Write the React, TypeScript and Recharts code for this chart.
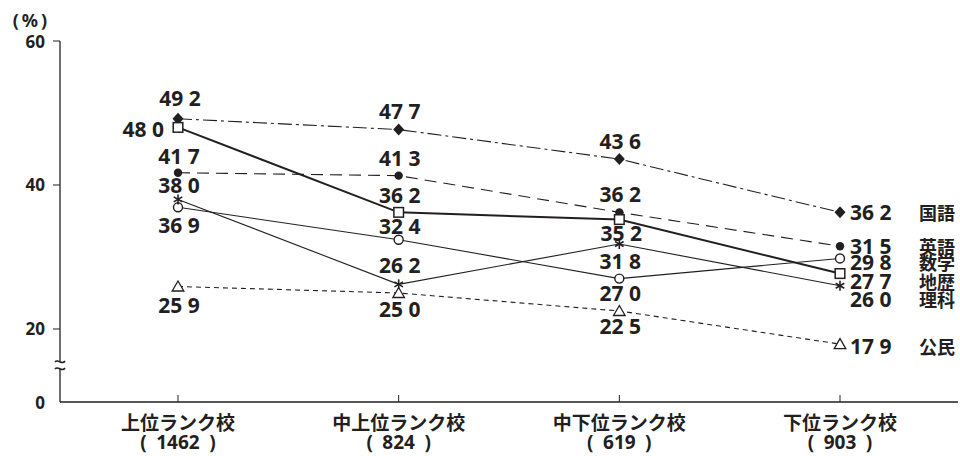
import { LabelList, Line, LineChart, XAxis, YAxis } from "recharts";

// 学校ランク別・教科別の割合（%）
const categories = ["上位ランク校", "中上位ランク校", "中下位ランク校", "下位ランク校"];
const counts = ["1462", "824", "619", "903"];

const kokugo = [49.2, 47.7, 43.6, 36.2];
const eigo = [41.7, 41.3, 36.2, 31.5];
const sugaku = [36.9, 32.4, 27.0, 29.8];
const chireki = [48.0, 36.2, 35.2, 27.7];
const rika = [38.0, 26.2, 31.8, 26.0];
const komin = [25.9, 25.0, 22.5, 17.9];

// axis is broken between 0 and 20: the "0" tick sits at AXIS_FLOOR
const AXIS_FLOOR = 9.86;
const BREAK_AT = 15;
const yTicks = [AXIS_FLOOR, BREAK_AT, 20, 40, 60];
const yTickLabels = ["0", "", "20", "40", "60"];

const INK = "#231f20";
const LATIN = "'Noto Sans', 'Noto Sans CJK JP', sans-serif";
const CJK = "'Noto Sans CJK JP', 'Noto Sans', sans-serif";

const rows = categories.map((category, i) => ({
  category,
  kokugo: kokugo[i],
  eigo: eigo[i],
  sugaku: sugaku[i],
  chireki: chireki[i],
  rika: rika[i],
  komin: komin[i],
}));

type Anchor = "start" | "middle" | "end";
// label offsets from the marker: [dx, dy, anchor]
const placements: Record<string, [number, number, Anchor][]> = {
  kokugo: [[2, -21, "middle"], [1, -19, "middle"], [1, -18, "middle"], [10, 0, "start"]],
  chireki: [[-14, 2, "end"], [1, -17, "middle"], [2, 13, "middle"], [10, 7, "start"]],
  eigo: [[1, -17, "middle"], [1, -18, "middle"], [1, -18, "middle"], [10, 0, "start"]],
  sugaku: [[1, 18, "middle"], [1, -14, "middle"], [1, 14, "middle"], [10, 4, "start"]],
  rika: [[1, -14, "middle"], [1, -19, "middle"], [1, 17, "middle"], [10, 13, "start"]],
  komin: [[1, 18, "middle"], [1, 16, "middle"], [1, 15, "middle"], [10, 2, "start"]],
};

const Diamond = ({ cx, cy }: any) => (
  <polygon points={`${cx},${cy - 6} ${cx + 5.5},${cy} ${cx},${cy + 6} ${cx - 5.5},${cy}`} fill={INK} />
);
const Dot = ({ cx, cy }: any) => <circle cx={cx} cy={cy} r={4.2} fill={INK} />;
const Ring = ({ cx, cy }: any) => (
  <circle cx={cx} cy={cy} r={4.5} fill="#fff" stroke={INK} strokeWidth={1.4} />
);
const Square = ({ cx, cy }: any) => (
  <rect x={cx - 4.8} y={cy - 4.8} width={9.6} height={9.6} fill="#fff" stroke={INK} strokeWidth={1.5} />
);
const Star = ({ cx, cy }: any) => (
  <g stroke={INK} strokeWidth={1.6}>
    <line x1={cx} y1={cy - 5} x2={cx} y2={cy + 5} />
    <line x1={cx - 4.3} y1={cy - 2.5} x2={cx + 4.3} y2={cy + 2.5} />
    <line x1={cx - 4.3} y1={cy + 2.5} x2={cx + 4.3} y2={cy - 2.5} />
  </g>
);
const Triangle = ({ cx, cy }: any) => (
  <polygon
    points={`${cx},${cy - 5.5} ${cx + 5.8},${cy + 4.5} ${cx - 5.8},${cy + 4.5}`}
    fill="#fff"
    stroke={INK}
    strokeWidth={1.3}
  />
);

const series = [
  { key: "kokugo", name: "国語", dash: "14 4 3 4", width: 1.1, Marker: Diamond },
  { key: "eigo", name: "英語", dash: "12 7", width: 1.1, Marker: Dot },
  { key: "sugaku", name: "数学", dash: undefined, width: 1.1, Marker: Ring },
  { key: "rika", name: "理科", dash: undefined, width: 1.1, Marker: Star },
  { key: "komin", name: "公民", dash: "5 4", width: 1.1, Marker: Triangle },
  { key: "chireki", name: "地歴", dash: undefined, width: 2, Marker: Square },
];

const makeLabel = (key: string, name: string) => (props: any) => {
  const { x, y, value, index } = props;
  const [dx, dy, anchor] = placements[key][index];
  const text = Number(value).toFixed(1).replace(".", " ");
  const last = index === categories.length - 1;
  return (
    <g>
      <text
        x={x + dx}
        y={y + dy}
        textAnchor={anchor}
        dominantBaseline="central"
        fontFamily={LATIN}
        fontWeight={700}
        fontSize={21}
        fill={INK}
      >
        {text}
      </text>
      {last && (
        <text
          x={x + 79}
          y={y + dy}
          dominantBaseline="central"
          fontFamily={CJK}
          fontWeight={700}
          fontSize={18}
          fill={INK}
        >
          {name}
        </text>
      )}
    </g>
  );
};

const XTick = ({ x, y, payload }: any) => {
  const i = categories.indexOf(payload.value);
  return (
    <g>
      <line x1={x} y1={y} x2={x} y2={y - 7} stroke={INK} strokeWidth={1} />
      <text x={x} y={y + 19} textAnchor="middle" dominantBaseline="central" fontFamily={CJK} fontWeight={700} fontSize={19} fill={INK}>
        {payload.value}
      </text>
      <text x={x} y={y + 40} textAnchor="middle" dominantBaseline="central" fontFamily={LATIN} fontWeight={700} fontSize={19} fill={INK}>
        {`(\u2002${counts[i]}\u2002)`}
      </text>
    </g>
  );
};

const YTick = ({ x, y, payload, index }: any) => {
  if (payload.value === BREAK_AT) {
    return (
      <g>
        <rect x={x - 6} y={y - 4} width={12} height={8} fill="#fff" />
        <path d={`M${x - 5},${y - 3} C${x - 2},${y - 7} ${x + 2},${y + 1} ${x + 5},${y - 4}`} fill="none" stroke={INK} strokeWidth={1.6} />
        <path d={`M${x - 5},${y + 4} C${x - 2},${y} ${x + 2},${y + 8} ${x + 5},${y + 3}`} fill="none" stroke={INK} strokeWidth={1.6} />
      </g>
    );
  }
  return (
    <g>
      {payload.value !== AXIS_FLOOR && <line x1={x - 7} y1={y} x2={x} y2={y} stroke={INK} strokeWidth={1} />}
      <text x={x - 15} y={y} textAnchor="end" dominantBaseline="central" fontFamily={LATIN} fontWeight={700} fontSize={17} fill={INK}>
        {yTickLabels[index]}
      </text>
    </g>
  );
};

const UnitLabel = ({ viewBox }: any) => (
  <text
    x={viewBox.x + 30}
    y={viewBox.y - 21}
    textAnchor="middle"
    dominantBaseline="central"
    fontFamily={LATIN}
    fontWeight={700}
    fontSize={18}
    fill={INK}
  >
    {"(\u2009%\u2009)"}
  </text>
);

export default function App() {
  return (
    <div style={{ position: "absolute", left: 0, top: 0, width: 960, height: 456, background: "#fff" }}>
      <LineChart width={960} height={456} data={rows} margin={{ top: 41, right: 2, bottom: 0, left: 0 }}>
        <XAxis
          dataKey="category"
          height={54}
          padding={{ left: 118, right: 118 }}
          axisLine={{ stroke: INK, strokeWidth: 1.3 }}
          tickLine={false}
          tickSize={0}
          tickMargin={0}
          interval={0}
          tick={<XTick />}
        />
        <YAxis
          type="number"
          width={60}
          domain={[AXIS_FLOOR, 60]}
          ticks={yTicks}
          interval={0}
          axisLine={{ stroke: INK, strokeWidth: 1.3 }}
          tickLine={false}
          tickSize={0}
          tickMargin={0}
          tick={<YTick />}
          label={<UnitLabel />}
        />
        {series.map(({ key, name, dash, width, Marker }) => (
          <Line
            key={key}
            dataKey={key}
            type="linear"
            stroke={INK}
            strokeWidth={width}
            strokeDasharray={dash}
            isAnimationActive={false}
            dot={(p: any) => <Marker key={`${key}-${p.index}`} cx={p.cx} cy={p.cy} />}
            activeDot={false}
          >
            <LabelList dataKey={key} content={makeLabel(key, name)} />
          </Line>
        ))}
      </LineChart>
    </div>
  );
}
